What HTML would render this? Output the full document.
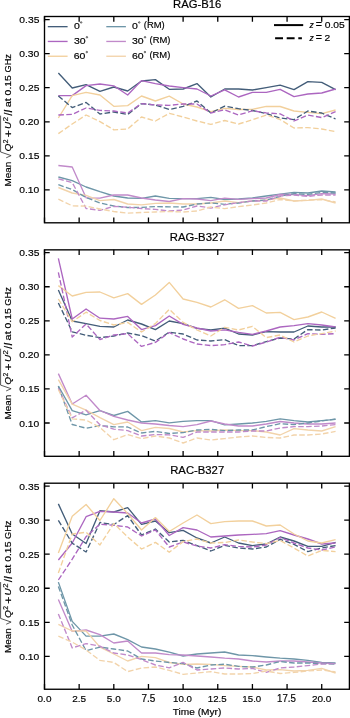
<!DOCTYPE html><html><head><meta charset="utf-8"><style>html,body{margin:0;padding:0;background:#fff;}svg{display:block;will-change:transform;}</style></head><body>
<svg width="350" height="718" viewBox="0 0 350 718" font-family='"Liberation Sans", sans-serif' fill="#000" stroke-linecap="butt">
<rect width="350" height="718" fill="#fff"/>
<defs>
<clipPath id="cp0"><rect x="44.5" y="16.5" width="304.9" height="206.3"/></clipPath>
<clipPath id="cp1"><rect x="44.5" y="249.85" width="304.9" height="206.45000000000002"/></clipPath>
<clipPath id="cp2"><rect x="44.5" y="483.2" width="304.9" height="206.05"/></clipPath>
</defs>
<g clip-path="url(#cp0)" fill="none" stroke-width="1.35" stroke-linejoin="round">
<polyline points="58.36,73.00 72.22,88.00 86.08,84.60 99.94,91.40 113.81,87.00 127.67,91.00 141.53,81.00 155.39,79.60 169.25,89.30 183.11,89.00 196.97,83.60 210.83,97.00 224.69,89.00 238.55,89.00 252.42,90.00 266.28,87.60 280.14,85.20 294.00,89.60 307.86,81.60 321.72,82.40 335.58,89.60" stroke="#435d79"/>
<polyline points="58.36,95.60 72.22,95.60 86.08,85.60 99.94,84.00 113.81,85.80 127.67,95.00 141.53,80.60 155.39,83.60 169.25,86.00 183.11,87.60 196.97,89.00 210.83,96.00 224.69,89.80 238.55,97.00 252.42,92.40 266.28,92.40 280.14,89.30 294.00,96.60 307.86,94.00 321.72,93.00 335.58,89.00" stroke="#ac66c0"/>
<polyline points="58.36,118.00 72.22,95.60 86.08,92.40 99.94,95.00 113.81,106.30 127.67,105.60 141.53,96.00 155.39,101.00 169.25,96.20 183.11,104.00 196.97,107.00 210.83,111.60 224.69,108.30 238.55,109.50 252.42,109.30 266.28,106.30 280.14,106.50 294.00,111.00 307.86,112.40 321.72,113.60 335.58,110.00" stroke="#f2d09c"/>
<polyline points="58.36,96.00 72.22,107.60 86.08,102.40 99.94,114.00 113.81,112.00 127.67,114.40 141.53,103.60 155.39,105.00 169.25,109.50 183.11,106.40 196.97,101.00 210.83,113.00 224.69,106.20 238.55,108.70 252.42,110.50 266.28,113.50 280.14,118.00 294.00,119.60 307.86,111.00 321.72,113.00 335.58,119.00" stroke="#435d79" stroke-dasharray="5.55 2.4"/>
<polyline points="58.36,115.00 72.22,114.40 86.08,108.00 99.94,110.40 113.81,111.00 127.67,113.00 141.53,103.60 155.39,105.00 169.25,105.30 183.11,104.00 196.97,104.00 210.83,113.00 224.69,109.80 238.55,115.00 252.42,110.80 266.28,112.90 280.14,113.80 294.00,121.00 307.86,115.00 321.72,117.60 335.58,111.60" stroke="#ac66c0" stroke-dasharray="5.55 2.4"/>
<polyline points="58.36,133.60 72.22,124.00 86.08,115.00 99.94,121.60 113.81,129.80 127.67,129.00 141.53,117.00 155.39,121.00 169.25,113.30 183.11,117.00 196.97,121.00 210.83,124.40 224.69,120.50 238.55,124.00 252.42,119.80 266.28,115.00 280.14,119.50 294.00,128.00 307.86,127.60 321.72,129.00 335.58,131.60" stroke="#f2d09c" stroke-dasharray="5.55 2.4"/>
<polyline points="58.36,177.00 72.22,180.70 86.08,187.00 99.94,191.70 113.81,196.00 127.67,198.00 141.53,198.30 155.39,196.00 169.25,198.30 183.11,198.60 196.97,198.60 210.83,197.40 224.69,199.50 238.55,199.00 252.42,198.00 266.28,196.00 280.14,194.20 294.00,192.40 307.86,193.00 321.72,191.00 335.58,192.00" stroke="#6e96a8"/>
<polyline points="58.36,165.50 72.22,167.00 86.08,197.80 99.94,198.20 113.81,195.00 127.67,195.00 141.53,198.00 155.39,200.00 169.25,201.50 183.11,198.60 196.97,199.00 210.83,200.60 224.69,198.20 238.55,199.40 252.42,198.60 266.28,198.00 280.14,194.50 294.00,194.40 307.86,195.60 321.72,193.60 335.58,194.00" stroke="#c18aca"/>
<polyline points="58.36,187.50 72.22,193.00 86.08,195.30 99.94,200.60 113.81,199.50 127.67,204.00 141.53,204.80 155.39,203.40 169.25,203.00 183.11,204.00 196.97,204.00 210.83,203.00 224.69,201.00 238.55,202.60 252.42,201.00 266.28,200.00 280.14,198.00 294.00,201.00 307.86,200.40 321.72,199.00 335.58,203.00" stroke="#f2d3aa"/>
<polyline points="58.36,184.70 72.22,189.50 86.08,197.50 99.94,203.00 113.81,206.00 127.67,207.50 141.53,207.40 155.39,206.60 169.25,206.80 183.11,207.00 196.97,204.00 210.83,203.00 224.69,204.30 238.55,203.00 252.42,201.00 266.28,200.00 280.14,196.30 294.00,193.60 307.86,194.40 321.72,192.40 335.58,193.00" stroke="#6e96a8" stroke-dasharray="5.55 2.4"/>
<polyline points="58.36,178.80 72.22,182.50 86.08,208.50 99.94,210.30 113.81,206.40 127.67,207.20 141.53,208.50 155.39,209.40 169.25,211.00 183.11,210.00 196.97,206.00 210.83,208.00 224.69,204.80 238.55,202.60 252.42,201.00 266.28,201.00 280.14,196.00 294.00,195.00 307.86,196.40 321.72,195.00 335.58,195.00" stroke="#c18aca" stroke-dasharray="5.55 2.4"/>
<polyline points="58.36,199.20 72.22,205.80 86.08,206.20 99.94,209.00 113.81,211.50 127.67,213.20 141.53,212.50 155.39,212.00 169.25,211.50 183.11,212.00 196.97,211.00 210.83,207.00 224.69,208.70 238.55,206.60 252.42,205.00 266.28,203.00 280.14,199.50 294.00,201.00 307.86,200.00 321.72,199.60 335.58,202.00" stroke="#f2d3aa" stroke-dasharray="5.55 2.4"/>
</g>
<rect x="44.5" y="16.5" width="304.9" height="206.3" fill="none" stroke="#000" stroke-width="1.35"/>
<path d="M44.50,222.8v-5.2M44.50,16.5v5.2M79.15,222.8v-5.2M79.15,16.5v5.2M113.81,222.8v-5.2M113.81,16.5v5.2M148.46,222.8v-5.2M148.46,16.5v5.2M183.11,222.8v-5.2M183.11,16.5v5.2M217.76,222.8v-5.2M217.76,16.5v5.2M252.42,222.8v-5.2M252.42,16.5v5.2M287.07,222.8v-5.2M287.07,16.5v5.2M321.72,222.8v-5.2M321.72,16.5v5.2M44.5,189.90h5.2M349.4,189.90h-5.2M44.5,155.84h5.2M349.4,155.84h-5.2M44.5,121.78h5.2M349.4,121.78h-5.2M44.5,87.72h5.2M349.4,87.72h-5.2M44.5,53.66h5.2M349.4,53.66h-5.2M44.5,19.60h5.2M349.4,19.60h-5.2" stroke="#000" stroke-width="1.3" fill="none"/>
<text transform="matrix(1.0300 0 0 0.9718 19.227 193.403)" font-size="10" stroke="#000" stroke-width="0.18" >0.10</text>
<text transform="matrix(1.0300 0 0 0.9718 19.330 159.343)" font-size="10" stroke="#000" stroke-width="0.18" >0.15</text>
<text transform="matrix(1.0300 0 0 0.9718 19.227 125.283)" font-size="10" stroke="#000" stroke-width="0.18" >0.20</text>
<text transform="matrix(1.0300 0 0 0.9718 19.330 91.223)" font-size="10" stroke="#000" stroke-width="0.18" >0.25</text>
<text transform="matrix(1.0300 0 0 0.9718 19.227 57.163)" font-size="10" stroke="#000" stroke-width="0.18" >0.30</text>
<text transform="matrix(1.0300 0 0 0.9718 19.330 23.103)" font-size="10" stroke="#000" stroke-width="0.18" >0.35</text>
<text transform="matrix(1.1310 0 0 1.0423 173.027 7.596)" font-size="10" stroke="#000" stroke-width="0.18" >RAG-B16</text>
<g transform="translate(10.9,185.70) rotate(-90)"><text transform="matrix(0.9915 0 0 0.9143 -0.793 -0.091)" font-size="10" stroke="#000" stroke-width="0.18" >Mean</text><path d="M27.9,-4.7L30.1,0.2L33.7,-10.3H70.1" fill="none" stroke="#222" stroke-width="0.75"/><text transform="matrix(1.0145 0 0 0.9101 34.093 -0.329)" font-size="10" stroke="#000" stroke-width="0.18" font-style="italic">Q</text><text transform="matrix(0.6739 0 0 0.7286 42.363 -2.900)" font-size="10" stroke="#000" stroke-width="0.18" >2</text><text transform="matrix(1.2083 0 0 1.1020 48.396 0.792)" font-size="10" stroke="#000" stroke-width="0.18" >+</text><text transform="matrix(0.9848 0 0 0.9571 56.711 0.104)" font-size="10" stroke="#000" stroke-width="0.18" font-style="italic">U</text><text transform="matrix(0.7826 0 0 0.7286 64.409 -2.900)" font-size="10" stroke="#000" stroke-width="0.18" >2</text><text transform="matrix(1.1111 0 0 1.0411 69.900 0.900)" font-size="10" stroke="#000" stroke-width="0.18" >/<tspan font-style="italic">I</tspan></text><text transform="matrix(1.1013 0 0 0.9846 78.359 0.002)" font-size="10" stroke="#000" stroke-width="0.18" >at</text><text transform="matrix(1.0430 0 0 0.9718 90.283 0.003)" font-size="10" stroke="#000" stroke-width="0.18" >0.15</text><text transform="matrix(0.9263 0 0 0.9718 113.137 0.003)" font-size="10" stroke="#000" stroke-width="0.18" >GHz</text></g>
<g clip-path="url(#cp1)" fill="none" stroke-width="1.35" stroke-linejoin="round">
<polyline points="58.36,290.00 72.22,321.00 86.08,323.60 99.94,326.40 113.81,327.00 127.67,320.00 141.53,324.00 155.39,329.60 169.25,321.00 183.11,323.60 196.97,328.40 210.83,330.00 224.69,328.20 238.55,334.00 252.42,335.00 266.28,331.60 280.14,332.00 294.00,332.00 307.86,326.00 321.72,327.00 335.58,327.00" stroke="#435d79"/>
<polyline points="58.36,258.40 72.22,319.00 86.08,309.00 99.94,318.20 113.81,319.00 127.67,316.40 141.53,329.60 155.39,325.60 169.25,316.00 183.11,324.40 196.97,328.00 210.83,331.00 224.69,329.80 238.55,332.40 252.42,334.40 266.28,331.00 280.14,327.00 294.00,325.60 307.86,323.60 321.72,325.00 335.58,327.00" stroke="#ac66c0"/>
<polyline points="58.36,285.60 72.22,296.00 86.08,292.40 99.94,292.00 113.81,297.80 127.67,293.60 141.53,304.40 155.39,295.00 169.25,282.40 183.11,299.00 196.97,302.40 210.83,307.00 224.69,299.80 238.55,308.40 252.42,305.60 266.28,313.00 280.14,312.40 294.00,319.60 307.86,317.00 321.72,312.00 335.58,318.40" stroke="#f2d09c"/>
<polyline points="58.36,303.00 72.22,331.80 86.08,335.30 99.94,337.60 113.81,336.00 127.67,333.00 141.53,335.60 155.39,341.00 169.25,332.20 183.11,334.00 196.97,340.00 210.83,341.00 224.69,339.60 238.55,345.60 252.42,345.60 266.28,341.60 280.14,338.00 294.00,339.00 307.86,329.60 321.72,330.00 335.58,328.00" stroke="#435d79" stroke-dasharray="5.55 2.4"/>
<polyline points="58.36,272.40 72.22,337.00 86.08,324.00 99.94,339.50 113.81,335.00 127.67,333.60 141.53,346.40 155.39,342.40 169.25,332.50 183.11,339.00 196.97,344.00 210.83,345.60 224.69,344.70 238.55,342.00 252.42,346.00 266.28,342.00 280.14,337.30 294.00,340.00 307.86,333.60 321.72,334.40 335.58,333.60" stroke="#ac66c0" stroke-dasharray="5.55 2.4"/>
<polyline points="58.36,299.00 72.22,321.70 86.08,312.20 99.94,320.50 113.81,325.00 127.67,322.40 141.53,332.00 155.39,323.60 169.25,309.30 183.11,322.40 196.97,330.00 210.83,336.00 224.69,327.30 238.55,330.00 252.42,326.40 266.28,337.60 280.14,335.00 294.00,342.00 307.86,336.00 321.72,333.60 335.58,331.00" stroke="#f2d09c" stroke-dasharray="5.55 2.4"/>
<polyline points="58.36,386.00 72.22,410.70 86.08,414.80 99.94,410.70 113.81,415.50 127.67,411.40 141.53,422.00 155.39,420.60 169.25,422.80 183.11,421.40 196.97,420.60 210.83,420.60 224.69,424.80 238.55,424.00 252.42,423.00 266.28,421.40 280.14,418.80 294.00,420.60 307.86,422.00 321.72,420.60 335.58,419.40" stroke="#6e96a8"/>
<polyline points="58.36,373.60 72.22,404.00 86.08,395.20 99.94,410.50 113.81,416.30 127.67,420.00 141.53,423.00 155.39,424.00 169.25,425.50 183.11,426.60 196.97,424.60 210.83,421.00 224.69,424.00 238.55,426.00 252.42,426.00 266.28,424.00 280.14,421.50 294.00,423.00 307.86,424.00 321.72,424.00 335.58,423.00" stroke="#c18aca"/>
<polyline points="58.36,379.60 72.22,404.20 86.08,410.20 99.94,417.70 113.81,424.60 127.67,422.00 141.53,430.60 155.39,427.40 169.25,428.50 183.11,432.00 196.97,430.60 210.83,431.00 224.69,430.00 238.55,430.60 252.42,430.60 266.28,432.00 280.14,435.00 294.00,428.60 307.86,430.00 321.72,431.00 335.58,426.60" stroke="#f2d3aa"/>
<polyline points="58.36,386.30 72.22,424.50 86.08,428.20 99.94,425.60 113.81,426.80 127.67,427.00 141.53,433.00 155.39,431.40 169.25,433.50 183.11,432.60 196.97,430.00 210.83,429.40 224.69,430.60 238.55,430.00 252.42,430.00 266.28,426.60 280.14,423.70 294.00,424.60 307.86,423.00 321.72,421.00 335.58,419.00" stroke="#6e96a8" stroke-dasharray="5.55 2.4"/>
<polyline points="58.36,388.30 72.22,417.80 86.08,410.20 99.94,424.80 113.81,429.20 127.67,430.60 141.53,436.00 155.39,434.60 169.25,434.80 183.11,437.40 196.97,432.00 210.83,432.00 224.69,432.00 238.55,432.00 252.42,431.00 266.28,431.00 280.14,428.00 294.00,426.60 307.86,426.60 321.72,426.00 335.58,424.60" stroke="#c18aca" stroke-dasharray="5.55 2.4"/>
<polyline points="58.36,389.50 72.22,418.80 86.08,420.10 99.94,427.40 113.81,439.70 127.67,434.60 141.53,438.60 155.39,436.00 169.25,438.00 183.11,443.00 196.97,438.00 210.83,440.00 224.69,438.60 238.55,437.00 252.42,436.00 266.28,437.40 280.14,438.00 294.00,435.00 307.86,435.00 321.72,434.00 335.58,431.40" stroke="#f2d3aa" stroke-dasharray="5.55 2.4"/>
</g>
<rect x="44.5" y="249.85" width="304.9" height="206.45000000000002" fill="none" stroke="#000" stroke-width="1.35"/>
<path d="M44.50,456.3v-5.2M44.50,249.85v5.2M79.15,456.3v-5.2M79.15,249.85v5.2M113.81,456.3v-5.2M113.81,249.85v5.2M148.46,456.3v-5.2M148.46,249.85v5.2M183.11,456.3v-5.2M183.11,249.85v5.2M217.76,456.3v-5.2M217.76,249.85v5.2M252.42,456.3v-5.2M252.42,249.85v5.2M287.07,456.3v-5.2M287.07,249.85v5.2M321.72,456.3v-5.2M321.72,249.85v5.2M44.5,423.00h5.2M349.4,423.00h-5.2M44.5,388.94h5.2M349.4,388.94h-5.2M44.5,354.88h5.2M349.4,354.88h-5.2M44.5,320.82h5.2M349.4,320.82h-5.2M44.5,286.76h5.2M349.4,286.76h-5.2M44.5,252.70h5.2M349.4,252.70h-5.2" stroke="#000" stroke-width="1.3" fill="none"/>
<text transform="matrix(1.0300 0 0 0.9718 19.227 426.503)" font-size="10" stroke="#000" stroke-width="0.18" >0.10</text>
<text transform="matrix(1.0300 0 0 0.9718 19.330 392.443)" font-size="10" stroke="#000" stroke-width="0.18" >0.15</text>
<text transform="matrix(1.0300 0 0 0.9718 19.227 358.383)" font-size="10" stroke="#000" stroke-width="0.18" >0.20</text>
<text transform="matrix(1.0300 0 0 0.9718 19.330 324.323)" font-size="10" stroke="#000" stroke-width="0.18" >0.25</text>
<text transform="matrix(1.0300 0 0 0.9718 19.227 290.263)" font-size="10" stroke="#000" stroke-width="0.18" >0.30</text>
<text transform="matrix(1.0300 0 0 0.9718 19.330 256.203)" font-size="10" stroke="#000" stroke-width="0.18" >0.35</text>
<text transform="matrix(1.1310 0 0 1.0423 169.860 240.696)" font-size="10" stroke="#000" stroke-width="0.18" >RAG-B327</text>
<g transform="translate(10.9,418.80) rotate(-90)"><text transform="matrix(0.9915 0 0 0.9143 -0.793 -0.091)" font-size="10" stroke="#000" stroke-width="0.18" >Mean</text><path d="M27.9,-4.7L30.1,0.2L33.7,-10.3H70.1" fill="none" stroke="#222" stroke-width="0.75"/><text transform="matrix(1.0145 0 0 0.9101 34.093 -0.329)" font-size="10" stroke="#000" stroke-width="0.18" font-style="italic">Q</text><text transform="matrix(0.6739 0 0 0.7286 42.363 -2.900)" font-size="10" stroke="#000" stroke-width="0.18" >2</text><text transform="matrix(1.2083 0 0 1.1020 48.396 0.792)" font-size="10" stroke="#000" stroke-width="0.18" >+</text><text transform="matrix(0.9848 0 0 0.9571 56.711 0.104)" font-size="10" stroke="#000" stroke-width="0.18" font-style="italic">U</text><text transform="matrix(0.7826 0 0 0.7286 64.409 -2.900)" font-size="10" stroke="#000" stroke-width="0.18" >2</text><text transform="matrix(1.1111 0 0 1.0411 69.900 0.900)" font-size="10" stroke="#000" stroke-width="0.18" >/<tspan font-style="italic">I</tspan></text><text transform="matrix(1.1013 0 0 0.9846 78.359 0.002)" font-size="10" stroke="#000" stroke-width="0.18" >at</text><text transform="matrix(1.0430 0 0 0.9718 90.283 0.003)" font-size="10" stroke="#000" stroke-width="0.18" >0.15</text><text transform="matrix(0.9263 0 0 0.9718 113.137 0.003)" font-size="10" stroke="#000" stroke-width="0.18" >GHz</text></g>
<g clip-path="url(#cp2)" fill="none" stroke-width="1.35" stroke-linejoin="round">
<polyline points="58.36,503.90 72.22,534.00 86.08,543.50 99.94,510.70 113.81,512.00 127.67,507.60 141.53,524.40 155.39,521.00 169.25,532.70 183.11,530.40 196.97,538.00 210.83,543.00 224.69,537.00 238.55,543.00 252.42,545.60 266.28,544.00 280.14,537.00 294.00,541.00 307.86,546.40 321.72,546.40 335.58,542.40" stroke="#435d79"/>
<polyline points="58.36,560.00 72.22,543.00 86.08,516.70 99.94,511.40 113.81,512.00 127.67,513.00 141.53,523.00 155.39,519.00 169.25,535.50 183.11,527.60 196.97,530.00 210.83,537.00 224.69,536.00 238.55,535.00 252.42,534.40 266.28,533.60 280.14,530.70 294.00,535.00 307.86,539.00 321.72,544.00 335.58,543.00" stroke="#ac66c0"/>
<polyline points="58.36,552.90 72.22,516.20 86.08,504.50 99.94,520.50 113.81,498.70 127.67,513.60 141.53,530.00 155.39,517.60 169.25,531.50 183.11,523.00 196.97,515.00 210.83,523.60 224.69,521.60 238.55,521.00 252.42,521.00 266.28,526.00 280.14,525.00 294.00,534.00 307.86,541.00 321.72,543.00 335.58,539.60" stroke="#f2d09c"/>
<polyline points="58.36,520.40 72.22,543.20 86.08,552.00 99.94,522.50 113.81,524.50 127.67,515.60 141.53,535.00 155.39,529.00 169.25,542.00 183.11,540.40 196.97,545.60 210.83,551.00 224.69,545.30 238.55,548.00 252.42,549.00 266.28,547.00 280.14,539.30 294.00,544.40 307.86,551.60 321.72,548.00 335.58,545.60" stroke="#435d79" stroke-dasharray="5.55 2.4"/>
<polyline points="58.36,580.00 72.22,559.20 86.08,536.70 99.94,524.20 113.81,525.30 127.67,527.00 141.53,536.00 155.39,530.00 169.25,547.00 183.11,542.00 196.97,546.00 210.83,548.00 224.69,544.70 238.55,546.40 252.42,547.00 266.28,545.00 280.14,537.50 294.00,543.00 307.86,548.00 321.72,550.00 335.58,547.00" stroke="#ac66c0" stroke-dasharray="5.55 2.4"/>
<polyline points="58.36,572.90 72.22,534.00 86.08,532.30 99.94,545.00 113.81,523.50 127.67,537.00 141.53,549.00 155.39,542.40 169.25,552.20 183.11,541.60 196.97,539.00 210.83,543.00 224.69,542.50 238.55,540.00 252.42,542.00 266.28,543.60 280.14,540.50 294.00,548.00 307.86,556.00 321.72,550.40 335.58,551.60" stroke="#f2d09c" stroke-dasharray="5.55 2.4"/>
<polyline points="58.36,582.10 72.22,621.40 86.08,636.10 99.94,636.10 113.81,634.00 127.67,639.60 141.53,647.00 155.39,649.00 169.25,652.20 183.11,656.00 196.97,654.00 210.83,653.00 224.69,652.00 238.55,655.00 252.42,655.60 266.28,657.00 280.14,658.20 294.00,659.00 307.86,660.40 321.72,662.40 335.58,663.00" stroke="#6e96a8"/>
<polyline points="58.36,599.60 72.22,631.40 86.08,630.00 99.94,634.70 113.81,643.00 127.67,641.00 141.53,653.00 155.39,653.00 169.25,654.70 183.11,655.00 196.97,656.00 210.83,657.00 224.69,658.20 238.55,659.00 252.42,661.00 266.28,662.00 280.14,661.00 294.00,661.00 307.86,662.00 321.72,663.00 335.58,663.60" stroke="#c18aca"/>
<polyline points="58.36,624.30 72.22,631.00 86.08,631.00 99.94,647.10 113.81,654.00 127.67,661.00 141.53,656.40 155.39,657.60 169.25,662.50 183.11,664.40 196.97,664.00 210.83,664.40 224.69,665.60 238.55,666.40 252.42,667.00 266.28,670.00 280.14,669.60 294.00,671.00 307.86,670.40 321.72,668.40 335.58,673.00" stroke="#f2d3aa"/>
<polyline points="58.36,586.40 72.22,625.00 86.08,650.70 99.94,647.10 113.81,649.00 127.67,651.00 141.53,659.00 155.39,661.00 169.25,662.50 183.11,663.60 196.97,668.00 210.83,665.00 224.69,664.20 238.55,666.40 252.42,667.00 266.28,665.00 280.14,661.50 294.00,663.00 307.86,663.00 321.72,663.60 335.58,664.00" stroke="#6e96a8" stroke-dasharray="5.55 2.4"/>
<polyline points="58.36,613.90 72.22,647.90 86.08,643.60 99.94,646.10 113.81,653.00 127.67,655.00 141.53,659.60 155.39,665.00 169.25,667.80 183.11,662.40 196.97,670.00 210.83,669.00 224.69,668.00 238.55,669.00 252.42,668.40 266.28,672.40 280.14,668.00 294.00,667.00 307.86,665.60 321.72,664.00 335.58,663.60" stroke="#c18aca" stroke-dasharray="5.55 2.4"/>
<polyline points="58.36,636.10 72.22,642.10 86.08,650.00 99.94,660.40 113.81,662.40 127.67,671.60 141.53,668.00 155.39,667.00 169.25,670.40 183.11,674.40 196.97,673.00 210.83,671.60 224.69,674.00 238.55,674.00 252.42,673.60 266.28,671.00 280.14,673.50 294.00,672.40 307.86,671.00 321.72,670.00 335.58,672.00" stroke="#f2d3aa" stroke-dasharray="5.55 2.4"/>
</g>
<rect x="44.5" y="483.2" width="304.9" height="206.05" fill="none" stroke="#000" stroke-width="1.35"/>
<path d="M44.50,689.25v-5.2M44.50,483.2v5.2M79.15,689.25v-5.2M79.15,483.2v5.2M113.81,689.25v-5.2M113.81,483.2v5.2M148.46,689.25v-5.2M148.46,483.2v5.2M183.11,689.25v-5.2M183.11,483.2v5.2M217.76,689.25v-5.2M217.76,483.2v5.2M252.42,689.25v-5.2M252.42,483.2v5.2M287.07,689.25v-5.2M287.07,483.2v5.2M321.72,689.25v-5.2M321.72,483.2v5.2M44.5,656.35h5.2M349.4,656.35h-5.2M44.5,622.29h5.2M349.4,622.29h-5.2M44.5,588.23h5.2M349.4,588.23h-5.2M44.5,554.17h5.2M349.4,554.17h-5.2M44.5,520.11h5.2M349.4,520.11h-5.2M44.5,486.05h5.2M349.4,486.05h-5.2" stroke="#000" stroke-width="1.3" fill="none"/>
<text transform="matrix(1.0300 0 0 0.9718 19.227 659.853)" font-size="10" stroke="#000" stroke-width="0.18" >0.10</text>
<text transform="matrix(1.0300 0 0 0.9718 19.330 625.793)" font-size="10" stroke="#000" stroke-width="0.18" >0.15</text>
<text transform="matrix(1.0300 0 0 0.9718 19.227 591.733)" font-size="10" stroke="#000" stroke-width="0.18" >0.20</text>
<text transform="matrix(1.0300 0 0 0.9718 19.330 557.673)" font-size="10" stroke="#000" stroke-width="0.18" >0.25</text>
<text transform="matrix(1.0300 0 0 0.9718 19.227 523.613)" font-size="10" stroke="#000" stroke-width="0.18" >0.30</text>
<text transform="matrix(1.0300 0 0 0.9718 19.330 489.553)" font-size="10" stroke="#000" stroke-width="0.18" >0.35</text>
<text transform="matrix(1.1310 0 0 1.0423 170.199 474.046)" font-size="10" stroke="#000" stroke-width="0.18" >RAC-B327</text>
<g transform="translate(10.9,652.15) rotate(-90)"><text transform="matrix(0.9915 0 0 0.9143 -0.793 -0.091)" font-size="10" stroke="#000" stroke-width="0.18" >Mean</text><path d="M27.9,-4.7L30.1,0.2L33.7,-10.3H70.1" fill="none" stroke="#222" stroke-width="0.75"/><text transform="matrix(1.0145 0 0 0.9101 34.093 -0.329)" font-size="10" stroke="#000" stroke-width="0.18" font-style="italic">Q</text><text transform="matrix(0.6739 0 0 0.7286 42.363 -2.900)" font-size="10" stroke="#000" stroke-width="0.18" >2</text><text transform="matrix(1.2083 0 0 1.1020 48.396 0.792)" font-size="10" stroke="#000" stroke-width="0.18" >+</text><text transform="matrix(0.9848 0 0 0.9571 56.711 0.104)" font-size="10" stroke="#000" stroke-width="0.18" font-style="italic">U</text><text transform="matrix(0.7826 0 0 0.7286 64.409 -2.900)" font-size="10" stroke="#000" stroke-width="0.18" >2</text><text transform="matrix(1.1111 0 0 1.0411 69.900 0.900)" font-size="10" stroke="#000" stroke-width="0.18" >/<tspan font-style="italic">I</tspan></text><text transform="matrix(1.1013 0 0 0.9846 78.359 0.002)" font-size="10" stroke="#000" stroke-width="0.18" >at</text><text transform="matrix(1.0430 0 0 0.9718 90.283 0.003)" font-size="10" stroke="#000" stroke-width="0.18" >0.15</text><text transform="matrix(0.9263 0 0 0.9718 113.137 0.003)" font-size="10" stroke="#000" stroke-width="0.18" >GHz</text></g>
<text transform="matrix(1.0000 0 0 0.9930 37.550 701.801)" font-size="10" stroke="#000" stroke-width="0.18" >0.0</text>
<text transform="matrix(1.0000 0 0 0.9930 72.153 701.801)" font-size="10" stroke="#000" stroke-width="0.18" >2.5</text>
<text transform="matrix(1.0000 0 0 0.9930 106.855 701.801)" font-size="10" stroke="#000" stroke-width="0.18" >5.0</text>
<text transform="matrix(1.0000 0 0 1.0071 141.458 701.799)" font-size="10" stroke="#000" stroke-width="0.18" >7.5</text>
<text transform="matrix(0.9700 0 0 0.9930 173.059 701.801)" font-size="10" stroke="#000" stroke-width="0.18" >10.0</text>
<text transform="matrix(0.9700 0 0 0.9930 207.760 701.801)" font-size="10" stroke="#000" stroke-width="0.18" >12.5</text>
<text transform="matrix(0.9700 0 0 0.9930 242.364 701.801)" font-size="10" stroke="#000" stroke-width="0.18" >15.0</text>
<text transform="matrix(0.9700 0 0 1.0071 277.065 701.799)" font-size="10" stroke="#000" stroke-width="0.18" >17.5</text>
<text transform="matrix(1.0000 0 0 0.9930 311.920 701.801)" font-size="10" stroke="#000" stroke-width="0.18" >20.0</text>
<text transform="matrix(1.0127 0 0 0.8936 172.797 715.423)" font-size="10" stroke="#000" stroke-width="0.18" >Time (Myr)</text>
<path d="M47.8,26.65H67.6" stroke="#435d79" stroke-width="1.35"/>
<path d="M106.3,26.65H125.9" stroke="#6e96a8" stroke-width="1.35"/>
<text transform="matrix(1.0500 0 0 0.9437 73.880 28.956)" font-size="10" stroke="#000" stroke-width="0.18" >0</text>
<circle cx="81.14" cy="22.45" r="0.75" fill="none" stroke="#000" stroke-width="0.6"/>
<text transform="matrix(1.0500 0 0 0.9437 131.980 28.956)" font-size="10" stroke="#000" stroke-width="0.18" >0</text>
<circle cx="139.24" cy="22.45" r="0.75" fill="none" stroke="#000" stroke-width="0.6"/>
<text transform="matrix(0.9429 0 0 0.9043 143.774 28.451)" font-size="10" stroke="#000" stroke-width="0.18" >(RM)</text>
<path d="M47.8,41.45H67.6" stroke="#ac66c0" stroke-width="1.35"/>
<path d="M106.3,41.45H125.9" stroke="#c18aca" stroke-width="1.35"/>
<text transform="matrix(1.0500 0 0 0.9437 73.880 43.756)" font-size="10" stroke="#000" stroke-width="0.18" >30</text>
<circle cx="86.91" cy="37.25" r="0.75" fill="none" stroke="#000" stroke-width="0.6"/>
<text transform="matrix(1.0500 0 0 0.9437 131.980 43.756)" font-size="10" stroke="#000" stroke-width="0.18" >30</text>
<circle cx="145.02" cy="37.25" r="0.75" fill="none" stroke="#000" stroke-width="0.6"/>
<text transform="matrix(0.9429 0 0 0.9043 149.549 43.251)" font-size="10" stroke="#000" stroke-width="0.18" >(RM)</text>
<path d="M47.8,56.25H67.6" stroke="#f2d09c" stroke-width="1.35"/>
<path d="M106.3,56.25H125.9" stroke="#f2d3aa" stroke-width="1.35"/>
<text transform="matrix(1.0500 0 0 0.9437 73.775 58.556)" font-size="10" stroke="#000" stroke-width="0.18" >60</text>
<circle cx="86.81" cy="52.05" r="0.75" fill="none" stroke="#000" stroke-width="0.6"/>
<text transform="matrix(1.0500 0 0 0.9437 131.875 58.556)" font-size="10" stroke="#000" stroke-width="0.18" >60</text>
<circle cx="144.91" cy="52.05" r="0.75" fill="none" stroke="#000" stroke-width="0.6"/>
<text transform="matrix(0.9429 0 0 0.9043 149.444 58.051)" font-size="10" stroke="#000" stroke-width="0.18" >(RM)</text>
<path d="M274,25.1H303.2" stroke="#000" stroke-width="2"/>
<path d="M275.1,38.3H301.9" stroke="#000" stroke-width="2" stroke-dasharray="7.9 3.7"/>
<text transform="matrix(0.8571 0 0 0.8491 309.400 27.800)" font-size="10" stroke="#000" stroke-width="0.18" font-style="italic">z</text>
<text transform="matrix(1.0625 0 0 1.0000 315.769 28.100)" font-size="10" stroke="#000" stroke-width="0.18" >=</text>
<text transform="matrix(1.0300 0 0 0.9437 324.688 27.706)" font-size="10" stroke="#000" stroke-width="0.18" >0.05</text>
<text transform="matrix(0.8571 0 0 0.8491 309.400 40.900)" font-size="10" stroke="#000" stroke-width="0.18" font-style="italic">z</text>
<text transform="matrix(1.0625 0 0 1.0000 315.769 41.200)" font-size="10" stroke="#000" stroke-width="0.18" >=</text>
<text transform="matrix(1.0300 0 0 0.9571 324.585 40.900)" font-size="10" stroke="#000" stroke-width="0.18" >2</text>
</svg></body></html>
